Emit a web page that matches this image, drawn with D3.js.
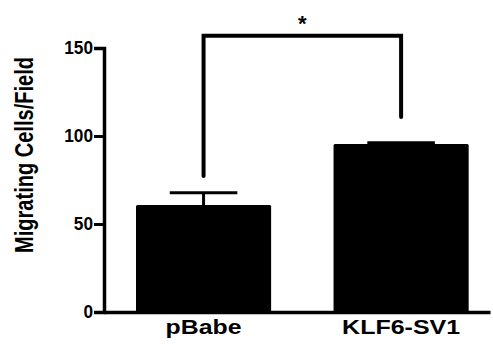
<!DOCTYPE html>
<html>
<head>
<meta charset="utf-8">
<script src="https://cdn.jsdelivr.net/npm/d3@7"></script>
<style>
  body { margin: 0; background: #fff; }
  svg { display: block; }
  svg text { font-family: "Liberation Sans", Arial, sans-serif; }
</style>
</head>
<body>
<svg id="chart" width="493" height="345"></svg>
<script>
// data
const groups = ["pBabe", "KLF6-SV1"];
const means = [60.8, 95.5];
const sems = [7.0, 0.7];
const yTicks = [0, 50, 100, 150];
// significance bracket, in data units
const sigPair = ["pBabe", "KLF6-SV1"];
const sigTop = 157;
const sigEnds = [77.3, 110.8];
const sigLabel = "*";

drawChart();

function drawChart() {
  const svg = d3.select("#chart");

  const y = d3.scaleLinear().domain([0, 150]).range([312, 48]);
  const x = d3.scaleBand()
    .domain(groups)
    .range([104, 490])
    .paddingInner(0.316)
    .paddingOuter(0.135)
    .align(0.6);

  const rows = groups.map((g, i) => ({ g: g, m: means[i], s: sems[i] }));

  // bars
  svg.selectAll("rect.bar")
    .data(rows)
    .enter()
    .append("rect")
    .attr("class", "bar")
    .attr("x", d => x(d.g))
    .attr("y", d => y(d.m))
    .attr("width", x.bandwidth())
    .attr("height", d => y(0) - y(d.m))
    .attr("rx", 1.5)
    .attr("fill", "#000");

  // error bars (upper only)
  const eb = svg.selectAll("g.err").data(rows).enter().append("g").attr("class", "err");
  eb.append("line")
    .attr("x1", d => x(d.g) + x.bandwidth() / 2)
    .attr("x2", d => x(d.g) + x.bandwidth() / 2)
    .attr("y1", d => y(d.m))
    .attr("y2", d => y(d.m + d.s))
    .attr("stroke", "#000").attr("stroke-width", 3);
  eb.append("line")
    .attr("x1", d => x(d.g) + x.bandwidth() / 4)
    .attr("x2", d => x(d.g) + x.bandwidth() * 3 / 4)
    .attr("y1", d => y(d.m + d.s))
    .attr("y2", d => y(d.m + d.s))
    .attr("stroke", "#000").attr("stroke-width", 3);

  // y axis
  const yAxis = svg.append("g")
    .attr("transform", "translate(104,0)")
    .call(d3.axisLeft(y).tickValues(yTicks).tickSize(10).tickSizeOuter(10).tickPadding(1));
  yAxis.attr("font-family", null);
  yAxis.select(".domain").attr("stroke-width", 3.5);
  yAxis.selectAll(".tick line").attr("stroke-width", 3);
  yAxis.selectAll(".tick text")
    .attr("font-size", 18)
    .attr("font-weight", "bold")
    .attr("fill", "#000")
    .attr("textLength", d => String(d).length * 9.6)
    .attr("lengthAdjust", "spacingAndGlyphs");

  // x axis
  const xAxis = svg.append("g")
    .attr("transform", "translate(0," + y(0) + ")")
    .call(d3.axisBottom(x).tickSize(0).tickSizeOuter(0).tickPadding(8));
  xAxis.attr("font-family", null);
  xAxis.select(".domain").attr("stroke-width", 3.5);
  const labelLen = { "pBabe": 76, "KLF6-SV1": 118 };
  xAxis.selectAll(".tick text")
    .attr("font-size", 20)
    .attr("font-weight", "bold")
    .attr("fill", "#000")
    .attr("dy", "0.71em")
    .attr("textLength", d => labelLen[d])
    .attr("lengthAdjust", "spacingAndGlyphs");

  // y title
  svg.append("text")
    .attr("transform", "translate(33,155) rotate(-90)")
    .attr("text-anchor", "middle")
    .attr("font-size", 25)
    .attr("font-weight", "bold")
    .attr("textLength", 196)
    .attr("lengthAdjust", "spacingAndGlyphs")
    .text("Migrating Cells/Field");

  // significance bracket
  const xa = x(sigPair[0]) + x.bandwidth() / 2;
  const xb = x(sigPair[1]) + x.bandwidth() / 2;
  svg.append("path")
    .attr("d", d3.line()([[xa, y(sigEnds[0])], [xa, y(sigTop)], [xb, y(sigTop)], [xb, y(sigEnds[1])]]))
    .attr("fill", "none")
    .attr("stroke", "#000")
    .attr("stroke-width", 4)
    .attr("stroke-linecap", "round");
  svg.append("text")
    .attr("x", (xa + xb) / 2)
    .attr("y", 31)
    .attr("text-anchor", "middle")
    .attr("font-size", 22)
    .attr("font-weight", "bold")
    .text(sigLabel);
}
</script>
</body>
</html>
